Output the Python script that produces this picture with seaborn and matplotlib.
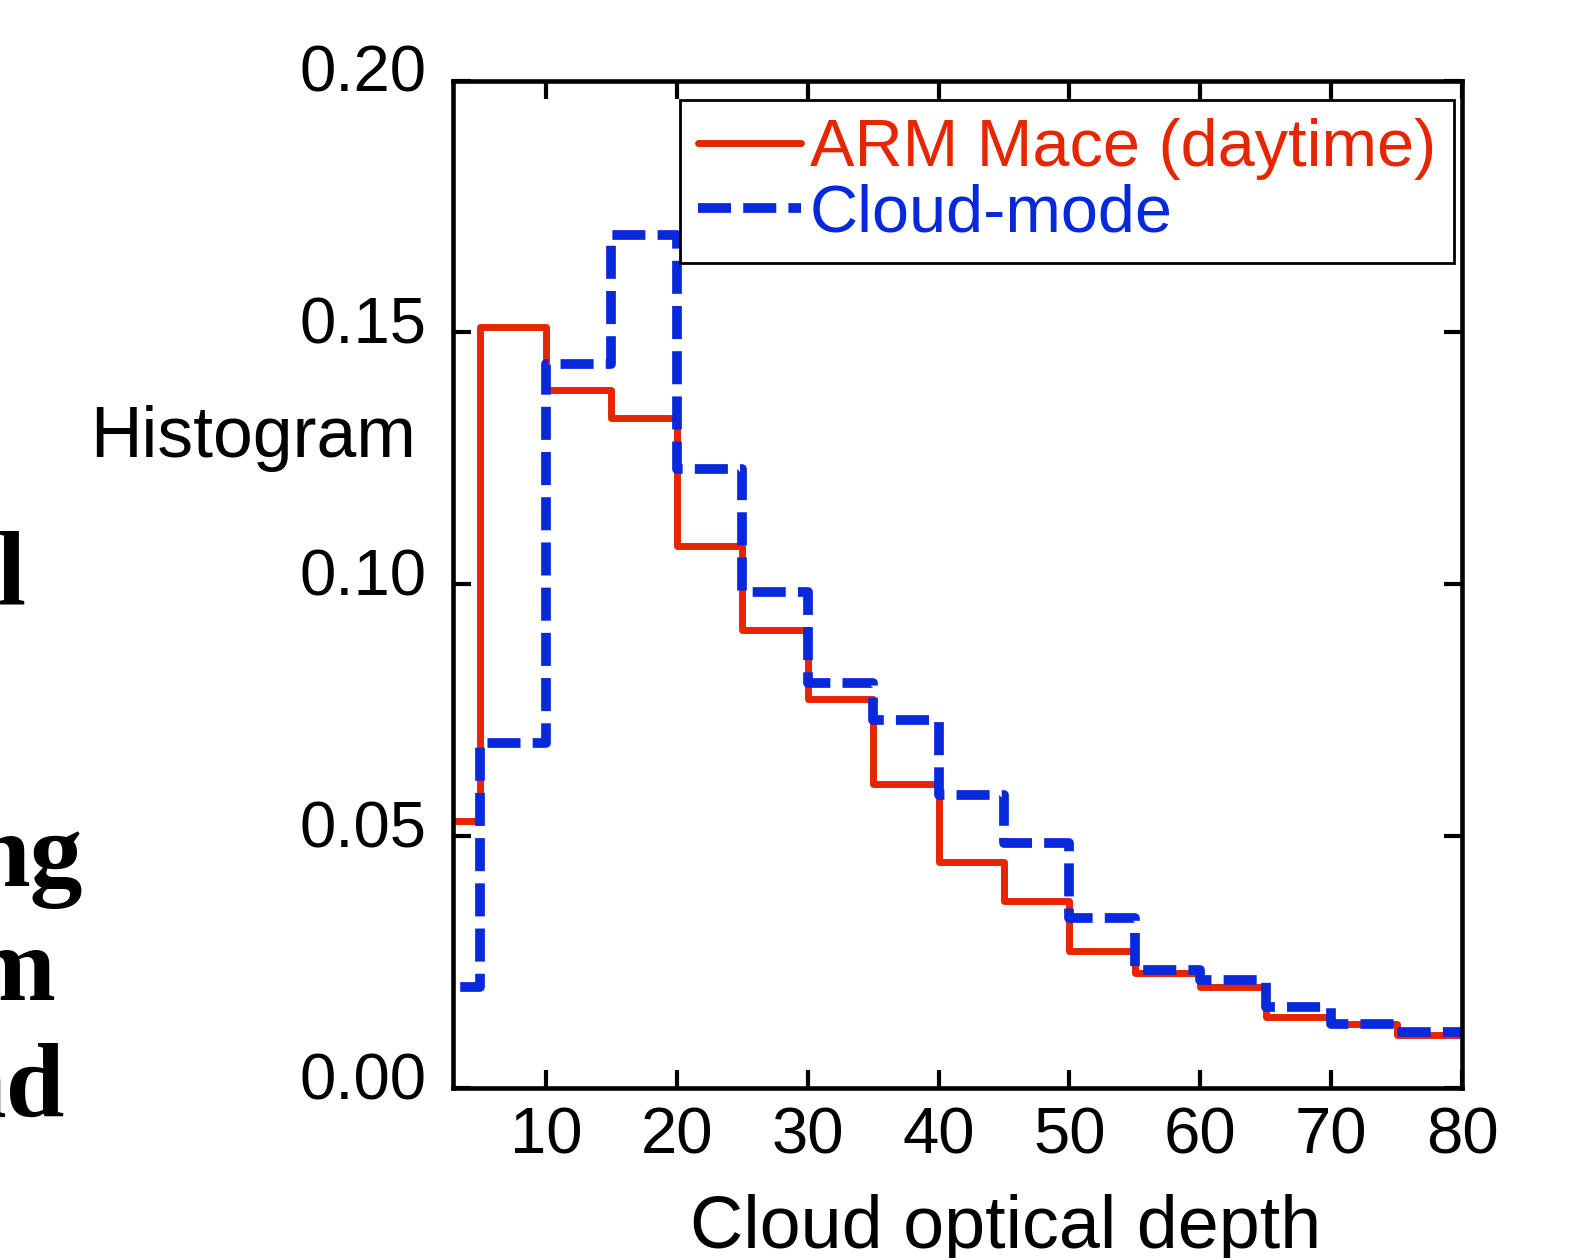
import numpy as np
import pandas as pd
import matplotlib
matplotlib.use("Agg")
import matplotlib.pyplot as plt
import matplotlib.transforms as mtransforms
import seaborn as sns

# ---- data ----
bin_edges = [0, 5, 10, 15, 20, 25, 30, 35, 40, 45, 50, 55, 60, 65, 70, 75, 80]
arm_mace = [0.053, 0.151, 0.1386, 0.133, 0.1075, 0.091, 0.0772, 0.0603,
            0.0448, 0.0372, 0.0271, 0.0229, 0.0201, 0.0140, 0.0127, 0.0105]
cloud_mode = [0.0201, 0.0685, 0.1437, 0.1694, 0.1228, 0.0985, 0.0804, 0.0730,
              0.0581, 0.0487, 0.0337, 0.0235, 0.0215, 0.0161, 0.0127, 0.0112]
series_labels = ["ARM Mace (daytime)", "Cloud-mode"]
series_colors = ["#E62600", "#0828DC"]
x_ticks = [10, 20, 30, 40, 50, 60, 70, 80]
y_ticks = [0.00, 0.05, 0.10, 0.15, 0.20]
side_fragments = ["al", "ng", "m", "nd"]

df = pd.DataFrame({
    "edge": bin_edges,
    "arm": arm_mace + [arm_mace[-1]],
    "cloud": cloud_mode + [cloud_mode[-1]],
})

sns.set_theme(style="ticks")
plt.rcParams["font.family"] = ["Liberation Sans", "DejaVu Sans"]

W, H = 1588, 1258
fig = plt.figure(figsize=(W / 100, H / 100), dpi=100)
ax = fig.add_axes([453 / W, 1 - 1088 / H, (1462 - 453) / W, (1088 - 80.5) / H])

sns.lineplot(data=df, x="edge", y="arm", drawstyle="steps-post", ax=ax,
             color=series_colors[0], linewidth=5, label=series_labels[0])
sns.lineplot(data=df, x="edge", y="cloud", drawstyle="steps-post", ax=ax,
             color=series_colors[1], linewidth=7, linestyle=(0, (3.4, 1.25)),
             label=series_labels[1])

ax.set_xlim(2.9, 80)
ax.set_ylim(0, 0.20)
ax.set_xticks(x_ticks)
ax.set_yticks(y_ticks)
ax.set_yticklabels([f"{v:.2f}" for v in y_ticks])

for s in ax.spines.values():
    s.set_linewidth(3.3)
    s.set_color("black")
    s.set_visible(True)

ax.tick_params(axis="both", direction="in", length=13, width=3, colors="black",
               top=True, right=True, labelsize=47)
ax.tick_params(axis="y", pad=19)
ax.tick_params(axis="x", pad=13)

# y tick labels sit slightly above their ticks in the reference
shift = mtransforms.ScaledTranslation(0, 0.125, fig.dpi_scale_trans)
for lab in ax.get_yticklabels():
    lab.set_transform(lab.get_transform() + shift)

ax.set_xlabel("Cloud optical depth", fontsize=53, color="black")
ax.xaxis.label.set_va("baseline")
ax.xaxis.set_label_coords((1006 - 453) / 1009, (1088 - 1248) / 1007.5)

ax.set_ylabel("Histogram", fontsize=51.5, rotation=0, color="black")
ax.yaxis.label.set_ha("left")
ax.yaxis.label.set_va("baseline")
ax.yaxis.set_label_coords((90 - 453) / 1009, (1088 - 457) / 1007.5)

leg = ax.legend(loc="upper right", bbox_to_anchor=(0.992, 0.9806), borderaxespad=0,
                fontsize=48, frameon=True, fancybox=False, edgecolor="black",
                framealpha=1, handlelength=1.55, handletextpad=0.13,
                labelspacing=0.05, borderpad=0.27)
leg.get_frame().set_linewidth(2)
for t, c in zip(leg.get_texts(), series_colors):
    t.set_color(c)

# cropped bold serif text from the neighbouring page
frag_pos = [(27, 604), (82, 886), (55, 1000), (64, 1117)]
for txt, (xr, yb) in zip(side_fragments, frag_pos):
    fig.text(xr / W, 1 - yb / H, txt, ha="right", va="baseline",
             fontfamily="Liberation Serif", fontweight="bold", fontsize=76,
             color="black")

fig.savefig("out.png", dpi=100)
